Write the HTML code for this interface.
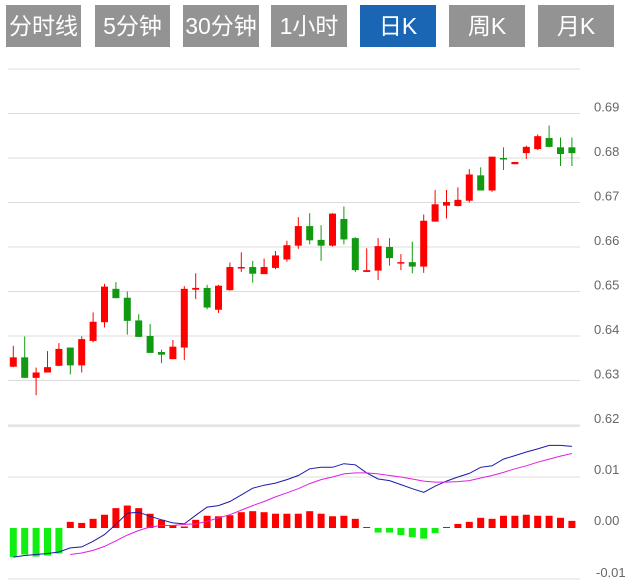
<!DOCTYPE html>
<html><head><meta charset="utf-8"><style>
body{margin:0;background:#fff;width:642px;height:580px;overflow:hidden;font-family:"Liberation Sans","Noto Sans CJK SC",sans-serif}
.btn{position:absolute;top:5px;height:42px;width:76px;background:#939393;color:#fff;font-size:23px;line-height:42px;text-align:center;font-family:"Liberation Sans","Noto Sans CJK SC",sans-serif}
.on{background:#1a66b5}
svg{position:absolute;left:0;top:0}
</style></head><body>
<div class="btn" style="left:6px;width:75px">分时线</div>
<div class="btn" style="left:95px;width:75px">5分钟</div>
<div class="btn" style="left:183px">30分钟</div>
<div class="btn" style="left:271px">1小时</div>
<div class="btn on" style="left:360px">日K</div>
<div class="btn" style="left:449px">周K</div>
<div class="btn" style="left:538px">月K</div>
<svg id="chart" width="642" height="580"></svg>
<script>
const opens=[.6331,.6352,.6306,.6318,.6333,.6374,.6334,.6389,.6431,.6506,.6486,.6435,.6400,.6364,.6348,.6374,.6504,.6508,.6459,.6503,.6552,.6555,.6539,.6553,.6572,.6603,.6647,.6616,.6603,.6663,.6620,.6544,.6547,.6600,.6564,.6566,.6556,.6657,.6693,.6692,.6704,.6761,.6727,.6800,.6786,.6811,.6820,.6845,.6824,.6824];
const highs=[.6378,.6399,.6329,.6366,.6384,.6374,.6399,.6453,.6517,.6521,.6500,.6449,.6427,.6369,.6391,.6512,.6541,.6515,.6515,.6565,.6588,.6569,.6574,.6591,.6614,.6667,.6676,.6649,.6676,.6691,.6622,.6597,.6620,.6620,.6584,.6612,.6673,.6728,.6728,.6734,.6775,.6779,.6803,.6824,.6791,.6828,.6853,.6873,.6846,.6846];
const lows=[.6330,.6306,.6267,.6318,.6332,.6314,.6318,.6386,.6419,.6485,.6403,.6398,.6362,.6339,.6348,.6346,.6483,.6460,.6452,.6502,.6544,.6520,.6539,.6550,.6567,.6596,.6606,.6569,.6601,.6606,.6544,.6544,.6526,.6558,.6548,.6541,.6542,.6657,.6664,.6691,.6700,.6727,.6724,.6773,.6786,.6798,.6818,.6824,.6782,.6782];
const closes=[.6352,.6306,.6318,.6330,.6371,.6334,.6393,.6432,.6511,.6485,.6434,.6398,.6362,.6358,.6376,.6506,.6508,.6464,.6513,.6555,.6555,.6540,.6555,.6581,.6604,.6647,.6615,.6603,.6675,.6617,.6548,.6548,.6602,.6575,.6566,.6556,.6659,.6696,.6701,.6706,.6763,.6727,.6803,.6799,.6791,.6825,.6849,.6825,.6809,.6811];
const histVals=[-.0057,-.0052,-.0056,-.0054,-.0050,.0012,.0010,.0018,.0026,.0039,.0044,.0039,.0028,.0016,.0005,.0003,.0016,.0024,.0023,.0025,.0031,.0033,.0031,.0028,.0028,.0028,.0033,.0028,.0023,.0024,.0018,.0002,-.0009,-.0009,-.0014,-.0018,-.0021,-.0010,.0002,.0008,.0012,.0020,.0018,.0024,.0024,.0026,.0024,.0024,.0020,.0014];
const difVals=[-.0057,-.0054,-.0052,-.0050,-.0047,-.0039,-.0037,-.0026,-.0013,.0007,.0029,.0031,.0023,.0016,.0010,.0008,.0025,.0041,.0044,.0052,.0065,.0078,.0084,.0088,.0095,.0103,.0116,.0119,.0119,.0126,.0124,.0108,.0096,.0093,.0085,.0077,.0070,.0082,.0092,.0100,.0107,.0119,.0122,.0135,.0142,.0149,.0155,.0162,.0162,.0160];
const deaVals=[null,null,null,null,null,-.0052,-.0049,-.0044,-.0036,-.0025,-.0014,-.0005,.0002,.0005,.0005,.0007,.0008,.0013,.0020,.0026,.0035,.0044,.0052,.0061,.0069,.0077,.0087,.0095,.0100,.0106,.0108,.0108,.0106,.0103,.0100,.0096,.0092,.0090,.0090,.0091,.0093,.0098,.0103,.0109,.0116,.0122,.0129,.0135,.0141,.0146];
const priceTicks=[0.69,0.68,0.67,0.66,0.65,0.64,0.63,0.62];
const macdTicks=[0.01,0.00,-0.01];

const svg=document.getElementById('chart');
const NS='http://www.w3.org/2000/svg';
const X=i=>13.3+i*11.4;
const Y=v=>158-(v-0.68)*4450;
const MY=v=>528-v*5100;
function mk(tag,attrs,parent){const e=document.createElementNS(NS,tag);for(const k in attrs)e.setAttribute(k,attrs[k]);(parent||svg).appendChild(e);return e;}

for(let v=0.70;v>0.615;v-=0.01){const g=mk('line',{x1:8,x2:580,y1:Y(v),y2:Y(v),stroke:'#dcdcdc','stroke-width':1});

}
priceTicks.forEach(v=>{const t=mk('text',{x:594,y:Y(v)-2,'font-size':13,fill:'#666'});t.textContent=v.toFixed(2);

});
const sep=mk('line',{x1:8,x2:580,y1:426,y2:426,stroke:'#e4e4e4','stroke-width':2});


[0.01,-0.01].forEach(v=>{const g=mk('line',{x1:8,x2:580,y1:MY(v),y2:MY(v),stroke:'#dcdcdc','stroke-width':1});

});
macdTicks.forEach(v=>{const t=mk('text',{x:594,y:MY(v)-3,'font-size':13,fill:'#666'});t.textContent=v.toFixed(2);
if(v<0){t.setAttribute('x',596);t.setAttribute('y',577);}

});

for(let i=0;i<opens.length;i++){
  const up=closes[i]>=opens[i];const col=up?'#f00':'#119911';
  const g=mk('g',{});
  
  
  mk('line',{x1:X(i),x2:X(i),y1:Y(highs[i]),y2:Y(lows[i]),stroke:col,'stroke-width':1},g);
  const top=Y(Math.max(opens[i],closes[i])),bot=Y(Math.min(opens[i],closes[i]));
  mk('rect',{x:X(i)-3.5,y:top,width:7,height:Math.max(1.5,bot-top),fill:col},g);
}
for(let i=0;i<histVals.length;i++){
  const v=histVals[i];const y0=MY(0),y1=MY(v);
  const r=mk('rect',{x:X(i)-3.5,y:Math.min(y0,y1),width:7,height:Math.max(1,Math.abs(y1-y0)),fill:v>=0?'#f00':'#11ee11'});
  
  
}
function line(arr,col,name){let d='';arr.forEach((v,i)=>{if(v===null)return;d+=(d?'L':'M')+X(i).toFixed(1)+','+MY(v).toFixed(1);});
  const p=mk('path',{d:d,fill:'none',stroke:col,'stroke-width':1});
  
  }
line(difVals,'#1a1aaa','dif-line');
line(deaVals,'#e020e0','dea-line');
</script>
</body></html>
